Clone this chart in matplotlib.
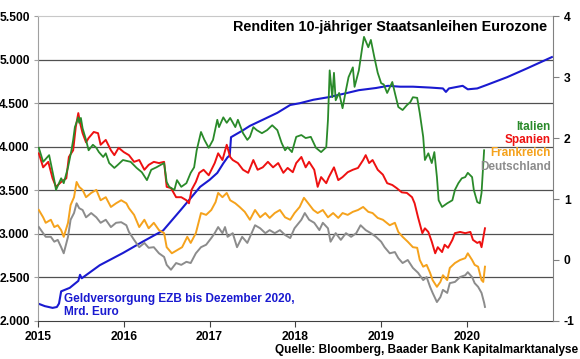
import matplotlib.pyplot as plt
import numpy as np

plt.rcParams['font.family'] = ['Liberation Sans', 'DejaVu Sans']
plt.rcParams['font.weight'] = 'bold'

# time axis in decimal years
# Geldversorgung EZB (Mrd. Euro), left axis
ezb_t = [2015.00, 2015.08, 2015.17, 2015.22, 2015.245, 2015.27, 2015.37, 2015.47,
         2015.49, 2015.51, 2015.72, 2015.99, 2016.22, 2016.46, 2016.66, 2016.89,
         2017.00, 2017.09, 2017.16, 2017.21, 2017.235, 2017.25, 2017.39, 2017.47,
         2017.62, 2017.79, 2017.94, 2018.05, 2018.21, 2018.39, 2018.59, 2018.74,
         2018.94, 2019.08, 2019.22, 2019.37, 2019.57, 2019.72, 2019.755, 2019.79,
         2019.95, 2020.01, 2020.12, 2020.23, 2020.47, 2020.70, 2020.99]
ezb_val = [2200, 2170, 2150, 2160, 2200, 2340, 2380, 2460,
           2530, 2490, 2640, 2780, 2910, 3040, 3270, 3540,
           3620, 3700, 3810, 3880, 3900, 4110, 4190, 4240,
           4310, 4390, 4480, 4500, 4540, 4570, 4615, 4650,
           4675, 4700, 4690, 4690, 4680, 4670, 4630, 4670,
           4700, 4660, 4670, 4710, 4800, 4900, 5030]

# Renditen 10-jähriger Staatsanleihen (%), right axis
it_t = [2015.01, 2015.06, 2015.13, 2015.19, 2015.21, 2015.27, 2015.30, 2015.35, 2015.39, 2015.41,
        2015.43, 2015.47, 2015.48, 2015.50, 2015.52, 2015.56, 2015.59, 2015.64, 2015.68, 2015.71,
        2015.76, 2015.79, 2015.83, 2015.89, 2015.93, 2015.99, 2016.08, 2016.15, 2016.21, 2016.27,
        2016.32, 2016.38, 2016.43, 2016.47, 2016.50, 2016.53, 2016.59, 2016.62, 2016.67, 2016.73,
        2016.78, 2016.82, 2016.85, 2016.90, 2016.94, 2016.99, 2017.04, 2017.09, 2017.11, 2017.16,
        2017.20, 2017.24, 2017.30, 2017.33, 2017.39, 2017.44, 2017.47, 2017.51, 2017.55, 2017.61,
        2017.67, 2017.73, 2017.79, 2017.84, 2017.88, 2017.91, 2017.96, 2018.01, 2018.07, 2018.12,
        2018.18, 2018.24, 2018.30, 2018.36, 2018.38, 2018.40, 2018.43, 2018.45, 2018.47, 2018.51,
        2018.55, 2018.59, 2018.62, 2018.67, 2018.69, 2018.74, 2018.78, 2018.80, 2018.85, 2018.88,
        2018.92, 2018.96, 2019.00, 2019.03, 2019.07, 2019.13, 2019.16, 2019.20, 2019.25, 2019.30,
        2019.34, 2019.37, 2019.42, 2019.45, 2019.49, 2019.51, 2019.55, 2019.59, 2019.62, 2019.65,
        2019.67, 2019.71, 2019.77, 2019.83, 2019.86, 2019.90, 2019.94, 2019.98, 2020.01, 2020.06,
        2020.08, 2020.12, 2020.15, 2020.17, 2020.20]
it_val = [1.84, 1.61, 1.72, 1.31, 1.15, 1.34, 1.26, 1.52, 1.80, 1.97,
          2.18, 2.34, 2.25, 2.33, 2.16, 1.97, 1.80, 1.89, 1.84, 1.77,
          1.69, 1.75, 1.59, 1.51, 1.56, 1.64, 1.61, 1.51, 1.44, 1.31,
          1.48, 1.52, 1.56, 1.59, 1.28, 1.20, 1.15, 1.31, 1.20, 1.26,
          1.43, 1.52, 1.80, 2.10, 1.97, 1.84, 1.97, 2.30, 2.18, 2.34,
          2.25, 2.33, 2.18, 2.30, 2.08, 1.97, 2.02, 2.18, 2.13, 2.08,
          2.13, 2.21, 2.13, 1.92, 1.80, 1.85, 1.77, 2.02, 2.05, 2.00,
          2.02, 1.84, 1.77, 1.85, 2.30, 3.11, 2.67, 3.07, 2.62, 2.74,
          2.49, 2.79, 3.00, 3.16, 2.84, 3.11, 3.49, 3.66, 3.49, 3.61,
          3.33, 3.07, 2.90, 2.88, 2.74, 2.92, 2.74, 2.51, 2.46, 2.54,
          2.59, 2.67, 2.66, 2.41, 2.02, 1.64, 1.75, 1.59, 1.77, 1.36,
          0.98, 0.87, 0.93, 0.98, 1.15, 1.26, 1.34, 1.36, 1.43, 1.36,
          1.15, 0.95, 0.93, 1.10, 1.80]

es_t = [2015.01, 2015.06, 2015.12, 2015.17, 2015.21, 2015.27, 2015.33, 2015.36, 2015.41, 2015.44,
        2015.47, 2015.49, 2015.52, 2015.56, 2015.59, 2015.65, 2015.70, 2015.73, 2015.79, 2015.85,
        2015.89, 2015.94, 2016.00, 2016.06, 2016.12, 2016.18, 2016.24, 2016.29, 2016.35, 2016.41,
        2016.47, 2016.50, 2016.55, 2016.61, 2016.67, 2016.73, 2016.76, 2016.79, 2016.84, 2016.88,
        2016.93, 2016.99, 2017.06, 2017.10, 2017.15, 2017.20, 2017.24, 2017.27, 2017.33, 2017.39,
        2017.45, 2017.51, 2017.56, 2017.62, 2017.68, 2017.74, 2017.80, 2017.86, 2017.91, 2017.97,
        2018.01, 2018.07, 2018.12, 2018.16, 2018.22, 2018.26, 2018.30, 2018.36, 2018.39, 2018.45,
        2018.50, 2018.55, 2018.61, 2018.67, 2018.73, 2018.79, 2018.82, 2018.86, 2018.90, 2018.96,
        2019.02, 2019.07, 2019.13, 2019.18, 2019.24, 2019.30, 2019.36, 2019.39, 2019.43, 2019.48,
        2019.51, 2019.55, 2019.59, 2019.63, 2019.66, 2019.71, 2019.74, 2019.78, 2019.83, 2019.86,
        2019.92, 2019.98, 2020.04, 2020.07, 2020.12, 2020.15, 2020.17, 2020.21]
es_val = [1.75, 1.52, 1.61, 1.34, 1.20, 1.28, 1.34, 1.69, 1.80, 2.18,
          2.41, 2.25, 2.08, 1.93, 2.00, 2.10, 2.08, 1.89, 1.97, 1.80,
          1.72, 1.84, 1.77, 1.72, 1.61, 1.64, 1.48, 1.56, 1.61, 1.59,
          1.61, 1.20, 1.18, 1.03, 1.03, 0.98, 0.93, 1.15, 1.28, 1.43,
          1.48, 1.39, 1.59, 1.75, 1.64, 1.89, 1.69, 1.64, 1.59, 1.48,
          1.43, 1.64, 1.48, 1.52, 1.61, 1.52, 1.59, 1.43, 1.51, 1.44,
          1.59, 1.69, 1.52, 1.61, 1.48, 1.20, 1.36, 1.26, 1.36, 1.52,
          1.31, 1.36, 1.44, 1.48, 1.51, 1.64, 1.72, 1.59, 1.64, 1.48,
          1.40, 1.26, 1.23, 1.18, 1.11, 1.10, 1.03, 0.93, 0.70, 0.44,
          0.52, 0.46, 0.30, 0.11, 0.21, 0.13, 0.25, 0.20, 0.33, 0.44,
          0.46, 0.44, 0.46, 0.33, 0.28, 0.30, 0.21, 0.52]

fr_t = [2015.01, 2015.06, 2015.09, 2015.15, 2015.19, 2015.23, 2015.27, 2015.30, 2015.35, 2015.38,
        2015.42, 2015.45, 2015.48, 2015.52, 2015.56, 2015.62, 2015.68, 2015.73, 2015.79, 2015.85,
        2015.91, 2015.97, 2016.03, 2016.06, 2016.12, 2016.18, 2016.24, 2016.29, 2016.35, 2016.41,
        2016.47, 2016.50, 2016.56, 2016.62, 2016.68, 2016.74, 2016.78, 2016.84, 2016.90, 2016.96,
        2017.02, 2017.07, 2017.10, 2017.15, 2017.20, 2017.24, 2017.30, 2017.35, 2017.41, 2017.47,
        2017.53, 2017.59, 2017.65, 2017.70, 2017.76, 2017.82, 2017.88, 2017.94, 2017.99, 2018.05,
        2018.10, 2018.15, 2018.21, 2018.26, 2018.32, 2018.38, 2018.44, 2018.50, 2018.55, 2018.61,
        2018.67, 2018.73, 2018.79, 2018.85, 2018.90, 2018.96, 2019.02, 2019.10, 2019.16, 2019.20,
        2019.25, 2019.31, 2019.37, 2019.42, 2019.45, 2019.49, 2019.53, 2019.57, 2019.60, 2019.65,
        2019.69, 2019.72, 2019.77, 2019.80, 2019.86, 2019.92, 2019.98, 2020.01, 2020.06, 2020.09,
        2020.13, 2020.17, 2020.19, 2020.21]
fr_val = [0.82, 0.70, 0.61, 0.66, 0.54, 0.57, 0.49, 0.38, 0.61, 0.90,
          1.03, 1.28, 1.20, 1.15, 1.03, 1.10, 1.15, 0.98, 1.03, 0.87,
          0.93, 0.98, 0.93, 0.85, 0.74, 0.54, 0.66, 0.52, 0.61, 0.49,
          0.44, 0.21, 0.11, 0.16, 0.21, 0.38, 0.28, 0.44, 0.77, 0.74,
          0.82, 0.95, 1.10, 1.03, 1.10, 0.98, 0.93, 0.87, 0.79, 0.66,
          0.82, 0.70, 0.77, 0.69, 0.77, 0.82, 0.70, 0.66, 0.77, 0.87,
          1.02, 0.93, 0.82, 0.77, 0.82, 0.70, 0.77, 0.69, 0.77, 0.74,
          0.79, 0.82, 0.87, 0.79, 0.77, 0.69, 0.66, 0.57, 0.61, 0.46,
          0.38, 0.30, 0.21, 0.20, 0.00, -0.11, -0.08, -0.21, -0.33, -0.44,
          -0.36, -0.25, -0.33, -0.13, -0.05, 0.00, 0.03, 0.11, 0.00, -0.08,
          -0.11, -0.33, -0.36, -0.11]

de_t = [2015.01, 2015.06, 2015.09, 2015.15, 2015.19, 2015.23, 2015.27, 2015.30, 2015.35, 2015.38,
        2015.42, 2015.45, 2015.48, 2015.52, 2015.56, 2015.62, 2015.68, 2015.73, 2015.79, 2015.85,
        2015.91, 2015.97, 2016.03, 2016.06, 2016.12, 2016.18, 2016.24, 2016.29, 2016.35, 2016.41,
        2016.47, 2016.50, 2016.55, 2016.61, 2016.67, 2016.73, 2016.78, 2016.84, 2016.90, 2016.96,
        2017.02, 2017.06, 2017.10, 2017.15, 2017.18, 2017.21, 2017.27, 2017.32, 2017.38, 2017.44,
        2017.49, 2017.53, 2017.59, 2017.65, 2017.70, 2017.76, 2017.82, 2017.88, 2017.94, 2017.99,
        2018.07, 2018.11, 2018.16, 2018.22, 2018.28, 2018.32, 2018.38, 2018.41, 2018.47, 2018.53,
        2018.59, 2018.65, 2018.71, 2018.76, 2018.82, 2018.88, 2018.94, 2019.00, 2019.04, 2019.10,
        2019.16, 2019.20, 2019.25, 2019.31, 2019.37, 2019.43, 2019.49, 2019.53, 2019.57, 2019.60,
        2019.65, 2019.69, 2019.72, 2019.77, 2019.80, 2019.86, 2019.92, 2019.98, 2020.01, 2020.06,
        2020.09, 2020.13, 2020.17, 2020.20, 2020.21]
de_val = [0.54, 0.44, 0.38, 0.38, 0.30, 0.33, 0.21, 0.11, 0.38, 0.66,
          0.77, 0.93, 0.85, 0.82, 0.70, 0.77, 0.70, 0.61, 0.66, 0.54,
          0.61, 0.62, 0.57, 0.46, 0.33, 0.21, 0.28, 0.20, 0.21, 0.11,
          0.05, -0.08, -0.16, -0.05, -0.08, -0.03, -0.05, 0.11, 0.21, 0.25,
          0.36, 0.44, 0.54, 0.44, 0.54, 0.38, 0.44, 0.21, 0.38, 0.28,
          0.44, 0.57, 0.52, 0.44, 0.49, 0.44, 0.49, 0.41, 0.36, 0.52,
          0.66, 0.77, 0.66, 0.61, 0.49, 0.61, 0.52, 0.30, 0.44, 0.33,
          0.44, 0.38, 0.44, 0.57, 0.49, 0.44, 0.38, 0.30, 0.21, 0.11,
          0.13, 0.03, -0.05, 0.00, -0.13, -0.21, -0.33, -0.28, -0.44, -0.54,
          -0.69, -0.61, -0.49, -0.54, -0.38, -0.36, -0.28, -0.25, -0.20, -0.28,
          -0.38, -0.44, -0.54, -0.70, -0.77]

left_ticks = [2000, 2500, 3000, 3500, 4000, 4500, 5000, 5500]
right_ticks = [-1, 0, 1, 2, 3, 4]
years = [2015, 2016, 2017, 2018, 2019, 2020]

c_it = '#2a8a2a'
c_es = '#ee1111'
c_fr = '#f5a21c'
c_de = '#8c8c8c'
c_ezb = '#1a1ad0'

fig = plt.figure(figsize=(5.8, 3.59), dpi=100)
ax = fig.add_axes([0.0655, 0.106, 0.8875, 0.849])
ax2 = ax.twinx()

ax.set_xlim(2015, 2021)
ax.set_ylim(2000, 5500)
ax2.set_ylim(-1, 4)

for v in left_ticks[1:-1]:
    ax.axhline(v, color='#505050', lw=0.9, zorder=0)

ax.plot(ezb_t, ezb_val, color=c_ezb, lw=1.5)

ax2.plot(es_t, es_val, color=c_es, lw=1.4)
ax2.plot(it_t, it_val, color=c_it, lw=1.3)
ax2.plot(fr_t, fr_val, color=c_fr, lw=1.4)
ax2.plot(de_t, de_val, color=c_de, lw=1.4)

ax.set_yticks(left_ticks)
ax.set_yticklabels([f'{v:,}'.replace(',', '.') for v in left_ticks])
ax2.set_yticks(right_ticks)
ax2.set_yticklabels([str(v) for v in right_ticks])
ax.set_xticks(years)
ax.set_xticklabels([str(y) for y in years])

ax.tick_params(axis='y', labelsize=8.7, length=3, color='#a0a0a0', pad=3)
ax2.tick_params(axis='y', labelsize=8.7, length=4, color='#808080', pad=4)
ax.tick_params(axis='x', labelsize=8.7, length=4, color='#404040', pad=3)

for s in ['top', 'left', 'bottom', 'right']:
    ax2.spines[s].set_visible(False)
ax2.spines['right'].set_visible(True)
ax2.spines['right'].set_color('#808080')
ax.spines['right'].set_visible(False)
ax.spines['top'].set_color('#c8c8c8')
ax.spines['left'].set_color('#a0a0a0')
ax.spines['bottom'].set_color('#404040')

ax2.text(0.99, 0.964, 'Renditen 10-jähriger Staatsanleihen Eurozone', transform=ax2.transAxes,
         ha='right', va='center', fontsize=10.4, fontweight='bold')

names = ['Italien', 'Spanien', 'Frankreich', 'Deutschland']
name_colors = [c_it, c_es, c_fr, c_de]
name_y = [0.636, 0.595, 0.551, 0.505]
for n, c, yy in zip(names, name_colors, name_y):
    ax2.text(0.996, yy, n, color=c, transform=ax2.transAxes, ha='right', va='center',
             fontsize=8.5, fontweight='bold')

ax2.text(0.05, 0.051, 'Geldversorgung EZB bis Dezember 2020,\nMrd. Euro', color=c_ezb,
         transform=ax2.transAxes, ha='left', va='center', fontsize=8.5, fontweight='bold',
         linespacing=1.15)

fig.text(0.997, 0.025, 'Quelle: Bloomberg, Baader Bank Kapitalmarktanalyse',
         ha='right', va='center', fontsize=8.5, fontweight='bold')

fig.savefig('out.png', dpi=100)
